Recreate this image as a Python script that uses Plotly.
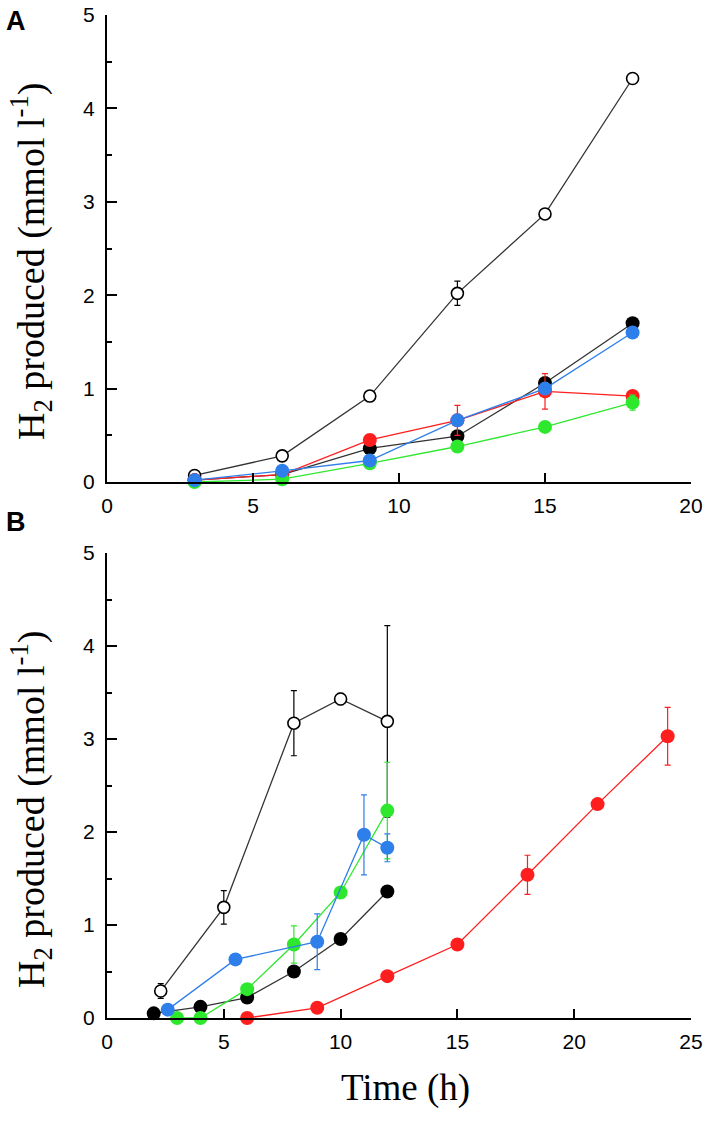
import plotly.graph_objects as go

W, H = 710, 1122

# ---------------- Panel A data ----------------
a_time = [3, 6, 9, 12, 15, 18]
a_open = [0.07, 0.28, 0.92, 2.02, 2.87, 4.32]
a_open_err = [0.02, 0.03, 0.04, 0.13, 0.04, 0.04]
a_black = [0.02, 0.08, 0.36, 0.49, 1.06, 1.70]
a_black_err = [0.01, 0.01, 0.03, 0.04, 0.04, 0.05]
a_red = [0.02, 0.08, 0.45, 0.66, 0.97, 0.92]
a_red_err = [0.01, 0.01, 0.03, 0.16, 0.19, 0.03]
a_green = [0.0, 0.03, 0.20, 0.38, 0.59, 0.85]
a_green_err = [0.01, 0.01, 0.02, 0.03, 0.03, 0.08]
a_blue = [0.02, 0.12, 0.23, 0.66, 1.00, 1.60]
a_blue_err = [0.01, 0.01, 0.02, 0.03, 0.04, 0.04]

# ---------------- Panel B data ----------------
b_open_t = [2.3, 5, 8, 10, 12]
b_open = [0.29, 1.19, 3.17, 3.43, 3.19]
b_open_err = [0.08, 0.18, 0.35, 0.06, 1.03]
b_black_t = [2, 4, 6, 8, 10, 12]
b_black = [0.05, 0.12, 0.22, 0.50, 0.85, 1.36]
b_black_err = [0.01, 0.01, 0.02, 0.03, 0.03, 0.04]
b_blue_t = [2.6, 5.5, 9, 11, 12]
b_blue = [0.09, 0.63, 0.82, 1.97, 1.83]
b_blue_err = [0.02, 0.03, 0.30, 0.43, 0.15]
b_green_t = [3, 4, 6, 8, 10, 12]
b_green = [0.0, 0.0, 0.31, 0.79, 1.35, 2.23]
b_green_err = [0.01, 0.01, 0.03, 0.20, 0.04, 0.52]
b_red_t = [6, 9, 12, 15, 18, 21, 24]
b_red = [0.0, 0.11, 0.45, 0.79, 1.54, 2.30, 3.03]
b_red_err = [0.01, 0.01, 0.02, 0.03, 0.21, 0.03, 0.31]

x_ticks_a = [0, 5, 10, 15, 20]
x_ticks_b = [0, 5, 10, 15, 20, 25]
y_ticks = [0, 1, 2, 3, 4, 5]

RED = "#FF1E1E"
GREEN = "#2EE82E"
BLUE = "#2F7FEA"
BLACK = "#000000"


def px(xp):
    return xp / W


def py(yp):
    return 1 - yp / H


def series(x, y, err, color, xa, ya, open_marker=False, line_color=None):
    return go.Scatter(
        x=x, y=y, xaxis=xa, yaxis=ya, mode="lines+markers",
        line=dict(color=line_color or color, width=1.3),
        marker=dict(
            size=14 if not open_marker else 12,
            color="white" if open_marker else color,
            line=dict(color=BLACK if open_marker else color, width=1.6 if open_marker else 0),
        ),
        error_y=dict(type="data", array=err, visible=True, color=color,
                     thickness=1.2, width=3),
        cliponaxis=False, showlegend=False,
    )


fig = go.Figure()
# Panel A
fig.add_trace(series(a_time, a_open, a_open_err, BLACK, "x", "y", open_marker=True, line_color="#333333"))
fig.add_trace(series(a_time, a_black, a_black_err, BLACK, "x", "y", line_color="#333333"))
fig.add_trace(series(a_time, a_red, a_red_err, RED, "x", "y"))
fig.add_trace(series(a_time, a_green, a_green_err, GREEN, "x", "y"))
fig.add_trace(series(a_time, a_blue, a_blue_err, BLUE, "x", "y"))
# Panel B
fig.add_trace(series(b_open_t, b_open, b_open_err, BLACK, "x2", "y2", open_marker=True, line_color="#333333"))
fig.add_trace(series(b_black_t, b_black, b_black_err, BLACK, "x2", "y2", line_color="#333333"))
fig.add_trace(series(b_red_t, b_red, b_red_err, RED, "x2", "y2"))
fig.add_trace(series(b_green_t, b_green, b_green_err, GREEN, "x2", "y2"))
fig.add_trace(series(b_blue_t, b_blue, b_blue_err, BLUE, "x2", "y2"))

xdom = [px(107), px(691)]
yA = [py(482), py(15)]
yB = [py(1018), py(553)]

tickfont = dict(family="Arial, Liberation Sans, sans-serif", size=21, color="black")
common_x = dict(showgrid=False, zeroline=False, showline=True, linecolor="black", linewidth=2,
                ticks="inside", ticklen=9, tickwidth=2, tickcolor="black", tickfont=tickfont,
                ticklabelstandoff=4, automargin=False, ticklabeloverflow="allow")
common_y = dict(showgrid=False, zeroline=False, showline=True, linecolor="black", linewidth=2,
                ticks="inside", ticklen=10, tickwidth=2, tickcolor="black", tickfont=tickfont,
                range=[0, 5], tickvals=y_ticks, ticklabelstandoff=6, automargin=False,
                ticklabeloverflow="allow",
                minor=dict(dtick=0.5, ticks="inside", ticklen=5, tickwidth=2, tickcolor="black"))

fig.update_layout(
    width=W, height=H, margin=dict(l=0, r=0, t=0, b=0, autoexpand=False),
    paper_bgcolor="white", plot_bgcolor="white",
    xaxis=dict(domain=xdom, anchor="y", range=[0, 20], tickvals=x_ticks_a, **common_x),
    yaxis=dict(domain=yA, anchor="x", **common_y),
    xaxis2=dict(domain=xdom, anchor="y2", range=[0, 25], tickvals=x_ticks_b, **common_x),
    yaxis2=dict(domain=yB, anchor="x2", **common_y),
)

serif = "Times New Roman, Liberation Serif, serif"
ytitle = "H<sub>2</sub> produced (mmol l<sup>-1</sup>)"
for yc in (262, 810):
    fig.add_annotation(text=ytitle, xref="paper", yref="paper", x=px(31), y=py(yc),
                       textangle=-90, showarrow=False, xanchor="center", yanchor="middle",
                       font=dict(family=serif, size=38, color="black"))
fig.add_annotation(text="Time (h)", xref="paper", yref="paper", x=px(405), y=py(1088),
                   showarrow=False, xanchor="center", yanchor="middle",
                   font=dict(family=serif, size=37, color="black"))
for lbl, yc in (("A", 21), ("B", 522)):
    fig.add_annotation(text="<b>%s</b>" % lbl, xref="paper", yref="paper", x=px(16), y=py(yc),
                       showarrow=False, xanchor="center", yanchor="middle",
                       font=dict(family="Arial, Liberation Sans, sans-serif", size=27, color="black"))

# remove the default 8px body margin so the 710x1122 figure fills the page exactly
fig.write_html("out.html", config={"displayModeBar": False},
               post_script="document.body.style.margin='0px';")
